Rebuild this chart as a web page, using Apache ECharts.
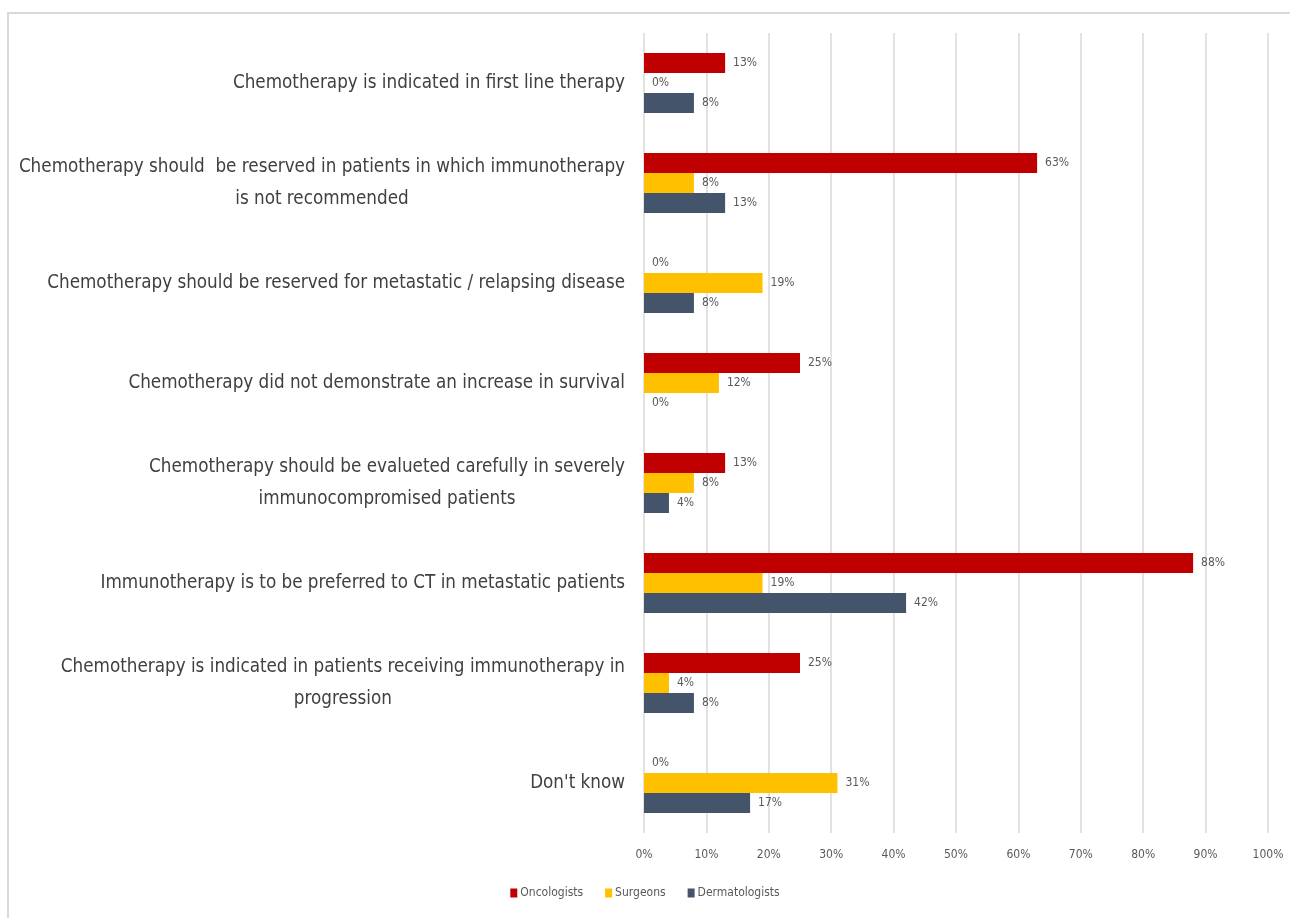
<!DOCTYPE html>
<html>
<head>
<meta charset="utf-8">
<script src="https://cdn.jsdelivr.net/npm/echarts@6/dist/echarts.min.js"></script>
<style>
  html, body { margin: 0; padding: 0; background: #fff; }
  #chart { width: 1290px; height: 918px; }
</style>
</head>
<body>
<div id="chart"></div>
<script>
// Survey answers, one row per statement (top to bottom)
const categories = [
  "Chemotherapy is indicated in first line therapy",
  "Chemotherapy should  be reserved in patients in which immunotherapy\nis not recommended",
  "Chemotherapy should be reserved for metastatic / relapsing disease",
  "Chemotherapy did not demonstrate an increase in survival",
  "Chemotherapy should be evalueted carefully in severely\nimmunocompromised patients",
  "Immunotherapy is to be preferred to CT in metastatic patients",
  "Chemotherapy is indicated in patients receiving immunotherapy in\nprogression",
  "Don't know"
];
const seriesNames = ["Oncologists", "Surgeons", "Dermatologists"];
const oncologists    = [13, 63, 0, 25, 13, 88, 25, 0];
const surgeons       = [0, 8, 19, 12, 8, 19, 4, 31];
const dermatologists = [8, 13, 8, 0, 4, 42, 8, 17];
const xTicks = [0, 10, 20, 30, 40, 50, 60, 70, 80, 90, 100];

const FONT = '"Liberation Sans Narrow", "DejaVu Sans Condensed", "Liberation Sans", sans-serif';
const colors = ["#C00000", "#FFC000", "#44546A"];

const chart = echarts.init(document.getElementById('chart'), null, { renderer: 'canvas' });

function barSeries(name, data, color) {
  return {
    name: name,
    type: 'bar',
    data: data,
    barGap: '0%',
    barCategoryGap: '40%',
    itemStyle: { color: color },
    label: {
      show: true,
      position: 'right',
      distance: 8,
      formatter: p => p.value + '%',
      fontFamily: FONT,
      fontSize: 12,
      color: '#595959'
    }
  };
}

chart.setOption({
  animation: false,
  backgroundColor: '#ffffff',
  color: colors,
  graphic: [{
    type: 'rect',
    shape: { x: 8, y: 13, width: 1300, height: 920 },
    style: { fill: 'none', stroke: '#d9d9d9', lineWidth: 2 },
    silent: true,
    z: -10
  }],
  legend: {
    bottom: 14,
    left: 'center',
    icon: 'rect',
    itemWidth: 7,
    itemHeight: 9,
    itemGap: 22,
    textStyle: { fontFamily: FONT, fontSize: 12, color: '#595959', padding: [0, 0, 0, -2] },
    data: seriesNames
  },
  grid: { left: 644, right: 22, top: 33, bottom: 85, containLabel: false, outerBoundsMode: 'none' },
  xAxis: {
    type: 'value',
    min: xTicks[0],
    max: xTicks[xTicks.length - 1],
    interval: 10,
    axisLine: { show: false },
    axisTick: { show: false },
    splitLine: { lineStyle: { color: '#d9d9d9', width: 1.5 } },
    axisLabel: {
      margin: 16,
      fontFamily: FONT,
      fontSize: 12,
      color: '#595959',
      formatter: v => v + '%'
    }
  },
  yAxis: {
    type: 'category',
    inverse: true,
    data: categories,
    axisLine: { show: false },
    axisTick: { show: false },
    axisLabel: {
      margin: 19,
      formatter: v => v.split('\n').map(s => '{c|' + s + '}').join('\n'),
      rich: {
        c: {
          align: 'center',
          fontFamily: FONT,
          fontSize: 18.7,
          lineHeight: 32,
          color: '#404040'
        }
      }
    }
  },
  series: [
    barSeries(seriesNames[0], oncologists, colors[0]),
    barSeries(seriesNames[1], surgeons, colors[1]),
    barSeries(seriesNames[2], dermatologists, colors[2])
  ]
});
</script>
</body>
</html>
